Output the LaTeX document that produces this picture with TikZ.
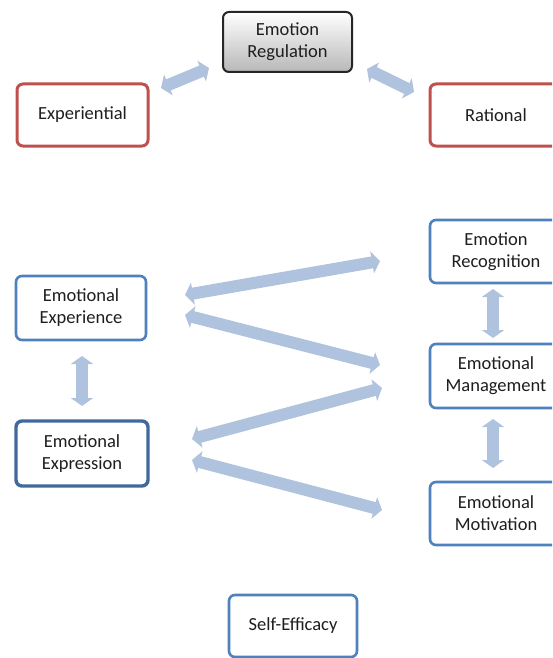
\documentclass[tikz,border=0pt]{standalone}
\usepackage{fontspec}
\setmainfont{Carlito}
\usetikzlibrary{arrows.meta,shadings}
\definecolor{redb}{HTML}{C0504D}
\definecolor{blueb}{HTML}{4F81BD}
\definecolor{blued}{HTML}{41699C}
\definecolor{arrowc}{HTML}{B0C3DE}
\definecolor{txt}{HTML}{1E1E1E}
\tikzset{
  box/.style={rectangle, rounded corners=6pt, align=center, text=txt,
    font=\fontsize{18.5}{22}\selectfont, inner sep=1pt, fill=white},
  redbox/.style={box, draw=redb, line width=3pt},
  bluebox/.style={box, draw=blueb, line width=2.6pt},
  darkbox/.style={box, draw=blued, line width=3.4pt},
  graybox/.style={box, draw=black!85, line width=2pt, top color=white, bottom color=black!28},
  dbl/.style={draw=arrowc, line width=12pt,
    {Triangle[width=22pt,length=8pt]}-{Triangle[width=22pt,length=8pt]}}
}
\begin{document}
\begin{tikzpicture}[x=1pt,y=-1pt]
\path[use as bounding box] (0,0) rectangle (552,658);
\clip (0,0) rectangle (552,658);
\fill[white] (0,0) rectangle (552,658);

\node[graybox, minimum width=129pt, minimum height=60pt] (reg) at (287.5,42) {Emotion\\Regulation};
\node[redbox, minimum width=131pt, minimum height=62pt] (exp) at (82.5,115) {Experiential};
\node[redbox, minimum width=132pt, minimum height=62pt] (rat) at (496,115) {Rational};

\node[bluebox, minimum width=130pt, minimum height=64pt] (expe) at (81,308) {Emotional\\Experience};
\node[darkbox, minimum width=132pt, minimum height=65pt] (expr) at (82,453.5) {Emotional\\Expression};

\node[bluebox, minimum width=132pt, minimum height=63pt] (recog) at (496,251.5) {Emotion\\Recognition};
\node[bluebox, minimum width=132pt, minimum height=64pt] (mgmt) at (496,376) {Emotional\\Management};
\node[bluebox, minimum width=132pt, minimum height=63pt] (motiv) at (496,513.5) {Emotional\\Motivation};

\node[bluebox, minimum width=128pt, minimum height=62pt] (self) at (293,626) {Self-Efficacy};

% arrow end points
\coordinate (a1s) at (161,88);  \coordinate (a1e) at (209,68);
\coordinate (a2s) at (367,69);  \coordinate (a2e) at (414,92);
\coordinate (v1s) at (82,356);  \coordinate (v1e) at (82,406);
\coordinate (v2s) at (493,289); \coordinate (v2e) at (493,338);
\coordinate (v3s) at (493,419); \coordinate (v3e) at (493,468);
\coordinate (z1s) at (185,295); \coordinate (z1e) at (380,261);
\coordinate (z2s) at (185,315); \coordinate (z2e) at (380,365);
\coordinate (z3s) at (192,439); \coordinate (z3e) at (382,388);
\coordinate (z4s) at (192,460); \coordinate (z4e) at (382,510);

\path[dbl] (a1s) -- (a1e);
\path[dbl] (a2s) -- (a2e);
\path[dbl] (v1s) -- (v1e);
\path[dbl] (v2s) -- (v2e);
\path[dbl] (v3s) -- (v3e);
\path[dbl] (z1s) -- (z1e);
\path[dbl] (z2s) -- (z2e);
\path[dbl] (z3s) -- (z3e);
\path[dbl] (z4s) -- (z4e);
\end{tikzpicture}
\end{document}
